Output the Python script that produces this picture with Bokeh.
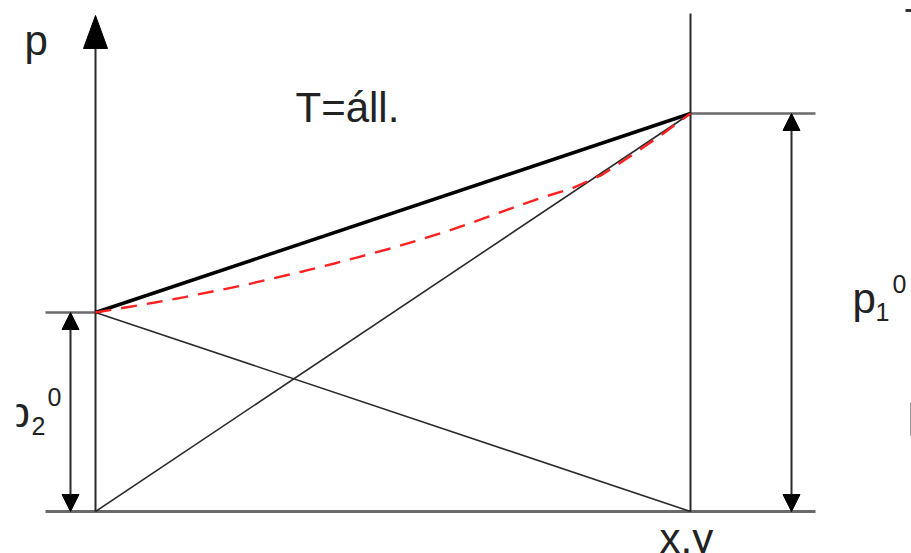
from bokeh.plotting import figure
from bokeh.models import Arrow, NormalHead
from bokeh.core.properties import value
from bokeh.embed import file_html
from bokeh.resources import INLINE

# Ideal binary mixture at constant temperature: pressure vs. composition
x_ends = [0.0, 1.0]          # mole fraction of component 1 at the two pure ends
p2_0 = 40.0                  # vapour pressure of pure component 2
p1_0 = 80.0                  # vapour pressure of pure component 1

# dew (vapour) curve, read point by point
dew_x = [0.0, 0.05, 0.10, 0.15, 0.20, 0.25, 0.30, 0.35, 0.40, 0.45, 0.50,
         0.55, 0.60, 0.65, 0.70, 0.75, 0.80, 0.85, 0.90, 0.95, 1.0]
dew_p = [40.0, 41.0, 42.0, 43.1, 44.3, 45.5, 46.9, 48.3, 49.8, 51.4, 53.0,
         54.8, 56.7, 58.8, 61.0, 63.1, 64.9, 67.6, 71.5, 75.6, 80.0]

axis_label_p = "p"
axis_label_x = "x,y"
title_text = "T=áll."

# page geometry (pixels)
W, H = 911, 553
LEFT_PAD = 16
X0_PX, PX_PER_X = 95, 595     # column of x = 0, pixels per unit x
P0_PX, PX_PER_P = 511, 4.975  # row of p = 0, pixels per unit p


def xd(px):
    return (px - X0_PX) / PX_PER_X


def pd(py):
    return (P0_PX - py) / PX_PER_P


p = figure(width=W, height=H, x_range=(xd(LEFT_PAD), xd(W)), y_range=(pd(H), pd(0)),
           output_backend="svg", toolbar_location=None,
           min_border_left=LEFT_PAD, min_border_right=0, min_border_top=0, min_border_bottom=0)
p.axis.visible = False
p.grid.visible = False
p.outline_line_color = None
p.background_fill_color = "white"
p.border_fill_color = "white"

grey = "#6a6a6a"
dark = "#2a2a2a"

# baseline and the reference levels of the pure-component pressures
p.line([xd(45), xd(815)], [0, 0], line_color=grey, line_width=3)
p.line([xd(45), x_ends[0]], [p2_0, p2_0], line_color=grey, line_width=2.5)
p.line([x_ends[1], xd(815)], [p1_0, p1_0], line_color=grey, line_width=2.5)

# pressure axis with arrow head, and the right-hand side (x = 1)
p.line([x_ends[0], x_ends[0]], [0, pd(46)], line_color=dark, line_width=2)
p.patch([xd(83), x_ends[0], xd(107)], [pd(48), pd(15), pd(48)],
        fill_color="black", line_color="black", line_width=1)
p.line([x_ends[1], x_ends[1]], [0, pd(13)], line_color=dark, line_width=2)

# partial pressure lines
p.line(x_ends, [p2_0, 0], line_color=dark, line_width=1.6)
p.line(x_ends, [0, p1_0], line_color=dark, line_width=1.6)

# bubble (liquid) line
p.line(x_ends, [p2_0, p1_0], line_color="black", line_width=3.5)

# dew (vapour) curve
p.line(dew_x, dew_p, line_color="#ff2020", line_width=2.4, line_dash="16 10")

# dimension arrows for p2^0 and p1^0
for col, top in ((70, p2_0), (791, p1_0)):
    p.add_layout(Arrow(
        start=NormalHead(size=17, fill_color="black", line_color="black"),
        end=NormalHead(size=17, fill_color="black", line_color="black"),
        x_start=xd(col), y_start=0, x_end=xd(col), y_end=top,
        line_color=dark, line_width=2))

font = value("Liberation Sans")
big, small = "42px", "25px"
txt_color = "#222222"
LIFT = 12  # baseline correction for the text glyphs


def put(px, py, s, size):
    p.text(x=[xd(px)], y=[pd(py - LIFT)], text=[s], text_font=font, text_font_size=size,
           text_color=txt_color, text_align="left", text_baseline="alphabetic")


put(24, 52, axis_label_p, big)
put(295, 119, title_text, big)
put(659, 550, axis_label_x, big)

# p2^0 label
put(6, 424, "p", big)
put(31, 437, "2", small)
put(47, 408, "0", small)

# p1^0 label
put(852, 310, "p", big)
put(875, 323, "1", small)
put(892, 295, "0", small)

# small strokes at the right edge
p.line([xd(910), xd(910)], [pd(402), pd(435)], line_color="#9a9a9a", line_width=1)
p.line([xd(905), xd(911)], [pd(10), pd(10)], line_color="#333333", line_width=3)

open("out.html", "w").write(file_html(p, INLINE))
